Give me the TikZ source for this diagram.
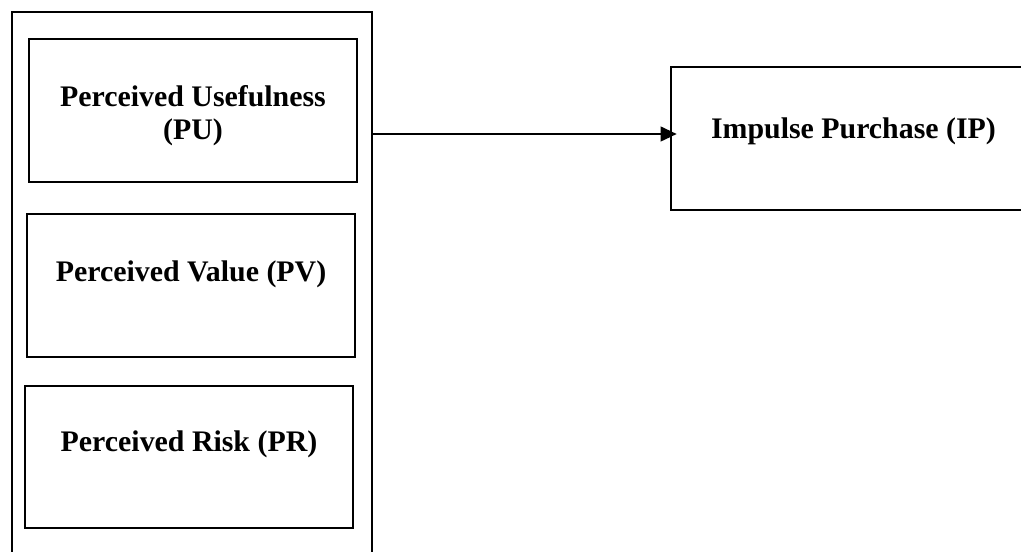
\documentclass[tikz,border=0pt]{standalone}
\usepackage{fontspec}
\setmainfont{Liberation Serif}
\usepackage{tikz}
\usetikzlibrary{arrows.meta}

\begin{document}
\begin{tikzpicture}[
    factor/.style = {draw, line width=1.4pt, inner sep=0pt,
      minimum width=246pt, minimum height=107.25pt, align=center,
      font=\bfseries\fontsize{22.4}{25}\selectfont},
    toptext/.style = {text height=15pt, text depth=#1},
    frame/.style = {draw, line width=1.4pt, minimum width=270pt, minimum height=426pt}]
\useasboundingbox (0,0) rectangle (765.75pt,-414pt);
\clip (0,0) rectangle (765.75pt,-414pt);
% outer group
\node[frame] (group) at (144pt,-222pt) {};
\node[factor, text height=49.2pt, text depth=5pt] (pu) at (144.75pt,-82.9pt) {Perceived Usefulness\\(PU)};
\node[factor, toptext=21pt] (pv) at (143.25pt,-214.1pt) {Perceived Value (PV)};
\node[factor, toptext=24pt, minimum height=106.5pt] (pr) at (141.75pt,-342.75pt) {Perceived Risk (PR)};
% outcome
\node[factor, toptext=15pt, minimum width=273.75pt] (ip) at (640.1pt,-103.9pt) {Impulse Purchase (IP)};
\draw[line width=1.5pt, -{Triangle[length=12pt,width=11pt]}, shorten >=-5pt]
  ([yshift=3.4pt]ip.west -| group.east) -- ([yshift=3.4pt]ip.west);
\end{tikzpicture}
\end{document}
